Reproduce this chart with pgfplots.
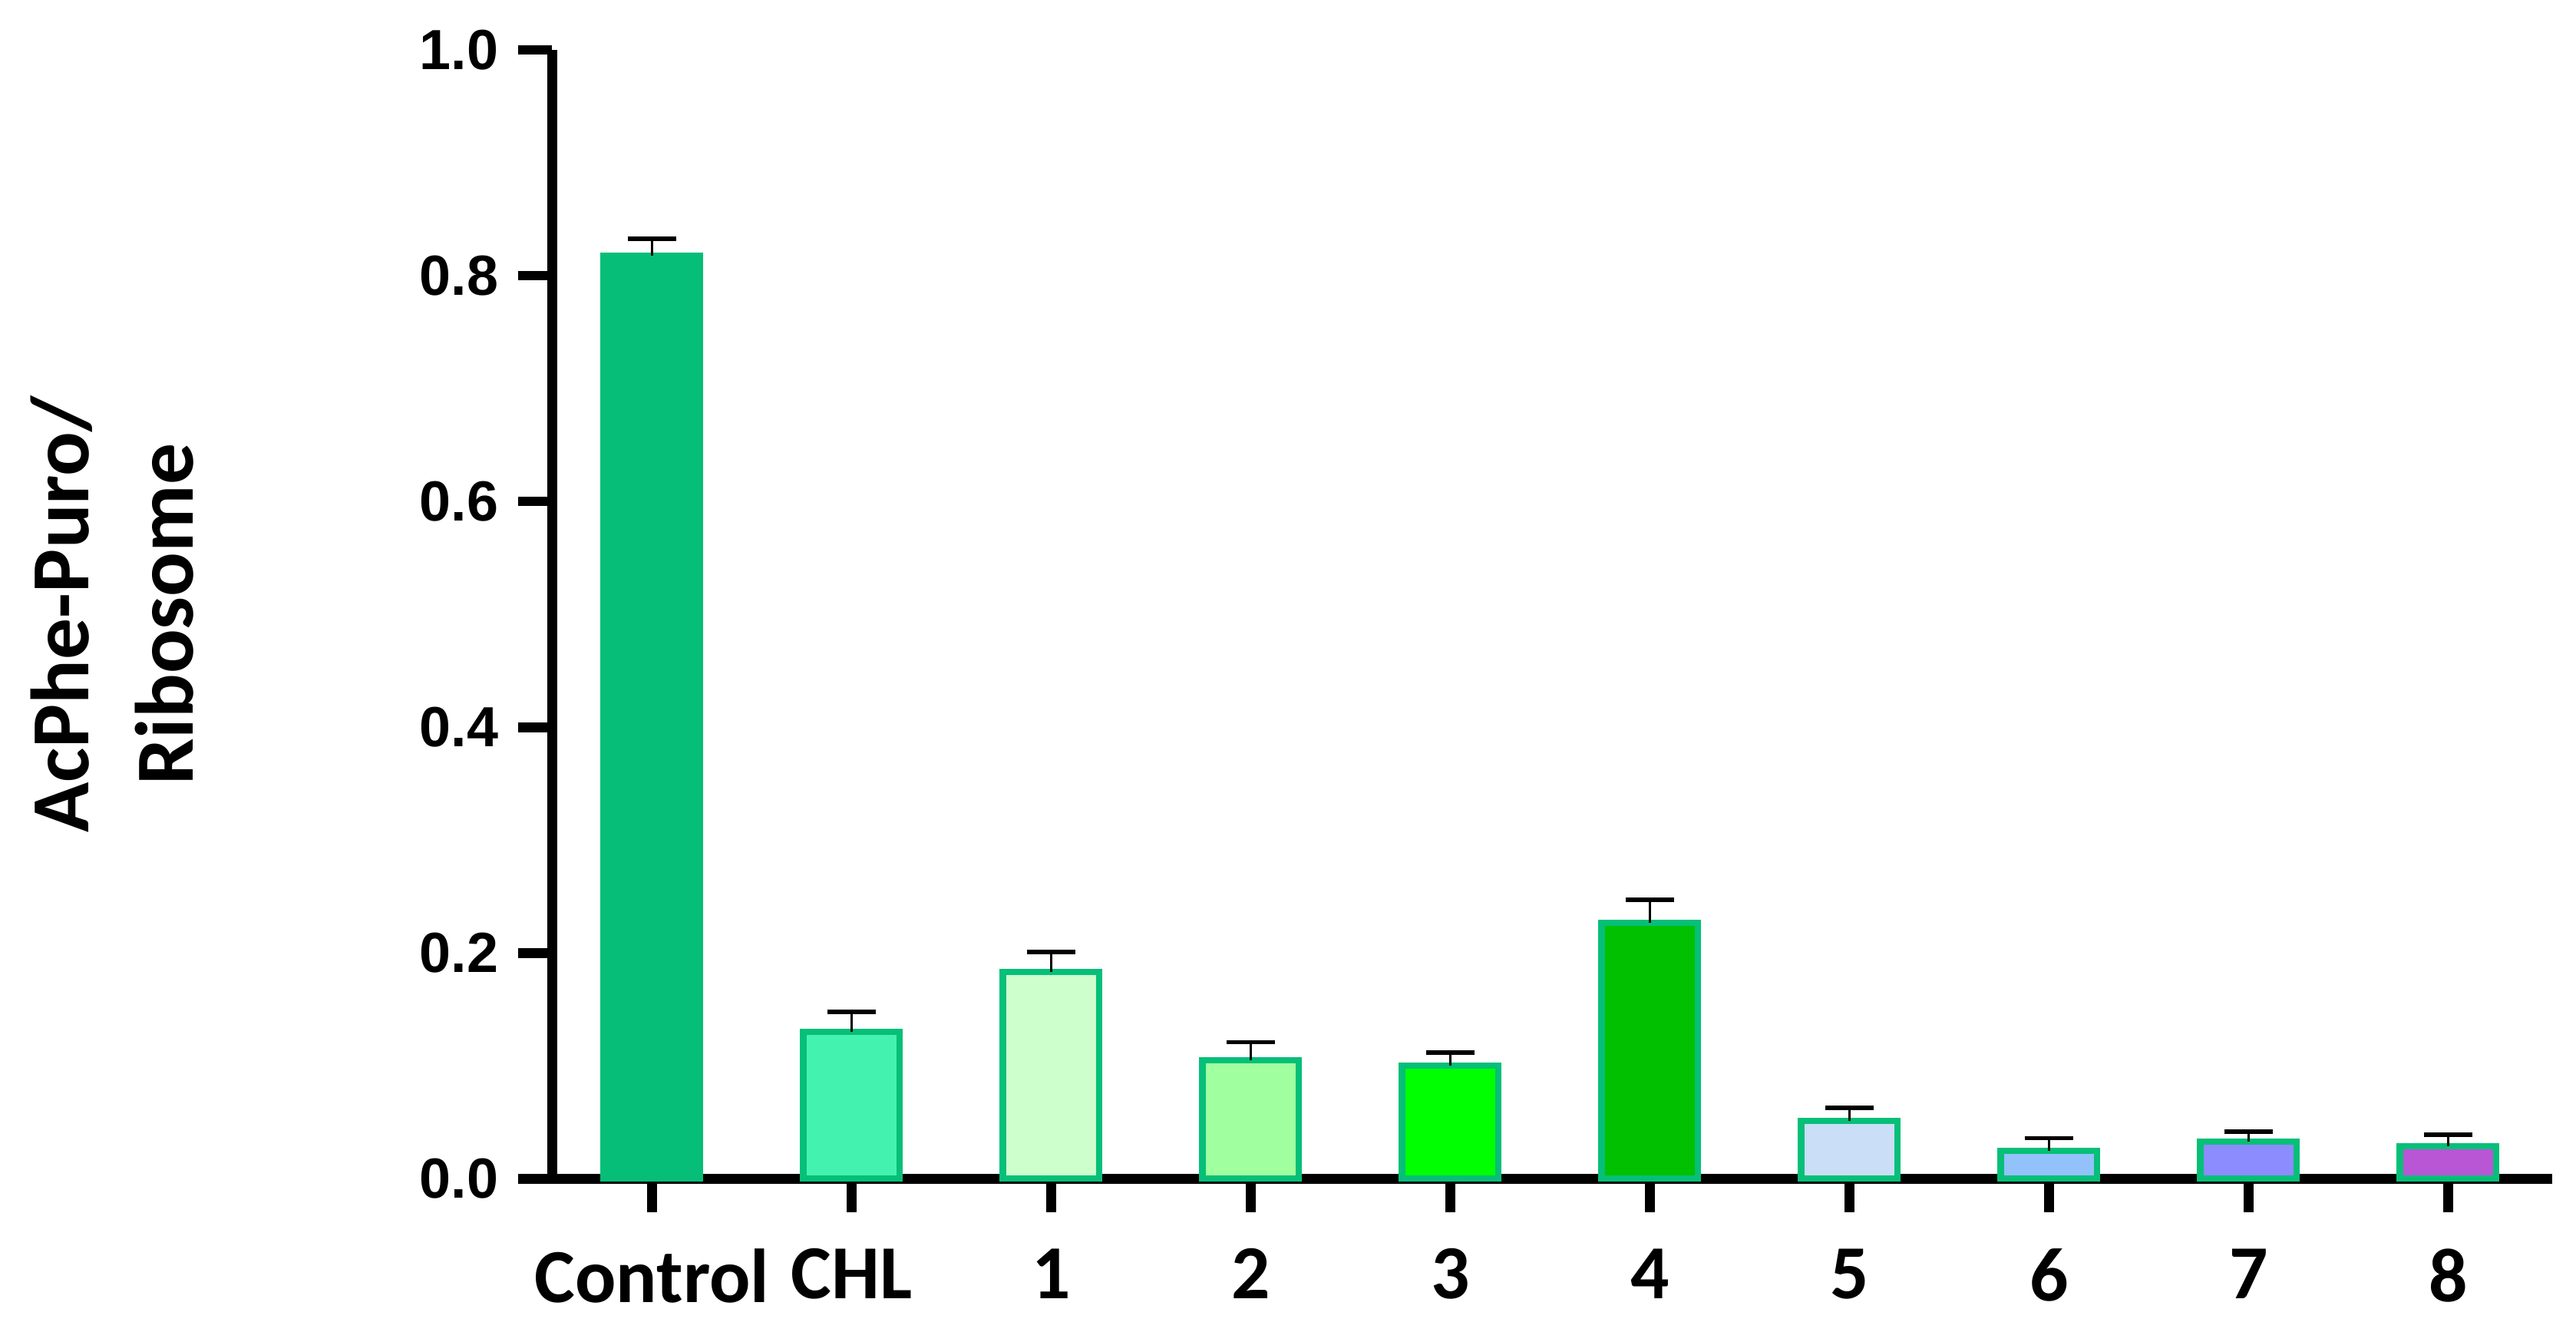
\documentclass[border=0pt]{standalone}
\usepackage{fontspec}
\setmainfont{Carlito}
\newfontfamily\numfont{Liberation Sans}
\usepackage{pgfplots}
\pgfplotsset{compat=1.18}

\definecolor{edgeGreen}{HTML}{06BF78}
\definecolor{cCtrl}{HTML}{06BE78}
\definecolor{cCHL}{HTML}{44F2B0}
\definecolor{cOne}{HTML}{CCFFCC}
\definecolor{cTwo}{HTML}{A0FF9E}
\definecolor{cThree}{HTML}{00FF00}
\definecolor{cFour}{HTML}{00C000}
\definecolor{cFive}{HTML}{CADEF7}
\definecolor{cSix}{HTML}{93C1FA}
\definecolor{cSeven}{HTML}{8C8CFF}
\definecolor{cEight}{HTML}{B956D6}

\begin{document}
\begin{tikzpicture}
\begin{axis}[
  name=ax,
  scale only axis,
  width=12.42cm, height=7.01cm,
  xmin=-0.5, xmax=9.52, ymin=0, ymax=1,
  axis x line=bottom, axis y line=left,
  axis line style={line width=1.7pt, -},
  tick style={line width=1.7pt, black},
  tick align=outside,
  major tick length=0.21cm,
  xtick={0,...,9},
  xticklabels={Control,CHL,1,2,3,4,5,6,7,8},
  x tick label style={font=\bfseries\fontsize{13.5}{16}\selectfont, yshift=-0.1cm},
  ytick={0,0.2,0.4,0.6,0.8,1.0},
  /pgf/number format/assume math mode=true,
  yticklabel style={font=\numfont\bfseries\fontsize{10}{11}\selectfont,
    /pgf/number format/fixed, /pgf/number format/fixed zerofill,
    /pgf/number format/precision=1},
  ylabel={AcPhe-Puro/\\Ribosome},
  ylabel style={at={(axis description cs:-0.22,0.5)}, anchor=center,
    align=center, font=\bfseries\fontsize{14.6}{18.5}\selectfont},
  ybar, bar width=0.6cm,
  error bars/y dir=plus, error bars/y explicit,
  error bars/error bar style={black, line width=0.5pt},
  error bars/error mark options={rotate=90, mark size=4.3pt, line width=0.8pt, black},
  clip=false,
]
% mean +- SD (upper only)
\addplot[bar shift=0pt, fill=cCtrl, draw=cCtrl, line width=1.1pt] coordinates {(0,0.818) +- (0,0.015)};
\addplot[bar shift=0pt, fill=cCHL, draw=edgeGreen, line width=1.1pt] coordinates {(1,0.130) +- (0,0.018)};
\addplot[bar shift=0pt, fill=cOne, draw=edgeGreen, line width=1.1pt] coordinates {(2,0.183) +- (0,0.018)};
\addplot[bar shift=0pt, fill=cTwo, draw=edgeGreen, line width=1.1pt] coordinates {(3,0.105) +- (0,0.016)};
\addplot[bar shift=0pt, fill=cThree, draw=edgeGreen, line width=1.1pt] coordinates {(4,0.100) +- (0,0.012)};
\addplot[bar shift=0pt, fill=cFour, draw=edgeGreen, line width=1.1pt] coordinates {(5,0.227) +- (0,0.020)};
\addplot[bar shift=0pt, fill=cFive, draw=edgeGreen, line width=1.1pt] coordinates {(6,0.051) +- (0,0.012)};
\addplot[bar shift=0pt, fill=cSix, draw=edgeGreen, line width=1.1pt] coordinates {(7,0.025) +- (0,0.011)};
\addplot[bar shift=0pt, fill=cSeven, draw=edgeGreen, line width=1.1pt] coordinates {(8,0.033) +- (0,0.009)};
\addplot[bar shift=0pt, fill=cEight, draw=edgeGreen, line width=1.1pt] coordinates {(9,0.029) +- (0,0.010)};
\end{axis}
\pgfresetboundingbox
\path[use as bounding box] ([shift={(-3.43cm,-1.01cm)}]ax.south west) rectangle ([shift={(0.15cm,0.31cm)}]ax.north east);
\end{tikzpicture}
\end{document}
